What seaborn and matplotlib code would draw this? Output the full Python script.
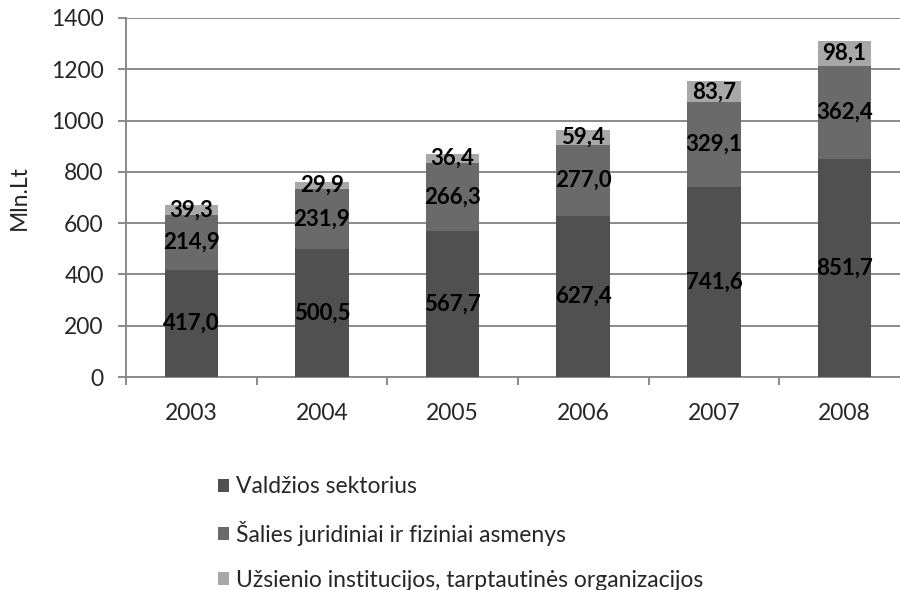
import matplotlib
matplotlib.use("Agg")
import matplotlib.pyplot as plt
from matplotlib.patches import Patch
from matplotlib.ticker import FixedLocator
import numpy as np
import pandas as pd
import seaborn as sns

years = ["2003", "2004", "2005", "2006", "2007", "2008"]
valdzios = [417.0, 500.5, 567.7, 627.4, 741.6, 851.7]
salies = [214.9, 231.9, 266.3, 277.0, 329.1, 362.4]
uzsienio = [39.3, 29.9, 36.4, 59.4, 83.7, 98.1]
series_names = [
    "Valdžios sektorius",
    "Šalies juridiniai ir fiziniai asmenys",
    "Užsienio institucijos, tarptautinės organizacijos",
]
colors = ["#505050", "#6a6a6a", "#a8a8a8"]

sns.set_style("white")
plt.rcParams["font.family"] = ["Lato", "DejaVu Sans"]

df = pd.DataFrame({"year": years, "v": valdzios, "s": salies, "u": uzsienio})
df["vs"] = df["v"] + df["s"]
df["total"] = df["vs"] + df["u"]

fig = plt.figure(figsize=(9, 5.9), dpi=100)
ax = fig.add_axes([0.140, 0.361, 0.871, 0.6085])

# stacked bars: draw cumulative totals, tallest first
for col, c in [("total", colors[2]), ("vs", colors[1]), ("v", colors[0])]:
    sns.barplot(data=df, x="year", y=col, color=c, width=0.41,
                saturation=1, ax=ax, zorder=3, linewidth=0)

# segment value labels, centred in each segment
for i in range(len(years)):
    bottoms = [0, valdzios[i], valdzios[i] + salies[i]]
    vals = [valdzios[i], salies[i], uzsienio[i]]
    for b, v in zip(bottoms, vals):
        ax.text(i, b + v / 2, f"{v:.1f}".replace(".", ","), ha="center",
                va="center", fontsize=16, fontweight="bold", color="black",
                zorder=5)

ax.set_xlim(-0.5, len(years) - 0.5)
ax.set_ylim(0, 1400)
ax.set_yticks(np.arange(0, 1401, 200))
ax.yaxis.grid(True, color="#8a8a8a", linewidth=1.4, zorder=0)
ax.set_axisbelow(True)
ax.set_xlabel("")
ax.set_ylabel("Mln.Lt", fontsize=16.5)
ax.yaxis.set_label_coords(-0.122, 0.5)

for side in ["top", "right"]:
    ax.spines[side].set_visible(False)
for side in ["left", "bottom"]:
    ax.spines[side].set_color("#8a8a8a")
    ax.spines[side].set_linewidth(1.4)

ax.tick_params(axis="y", which="major", length=6, width=1.4, color="#8a8a8a",
               labelsize=16.5, pad=10, left=True)
ax.tick_params(axis="x", which="major", length=0, labelsize=16.5, pad=19)
ax.xaxis.set_minor_locator(FixedLocator(np.arange(-0.5, len(years), 1.0)))
ax.tick_params(axis="x", which="minor", length=6, width=1.4, color="#8a8a8a",
               bottom=True)

handles = [Patch(facecolor=c, edgecolor="none") for c in colors]
fig.legend(handles, series_names, loc="upper left",
           bbox_to_anchor=(0.229, 0.212), frameon=False, fontsize=16.5,
           handlelength=0.5, handleheight=0.5, handletextpad=0.3,
           labelspacing=1.03, borderpad=0)

fig.savefig("out.png", dpi=100)
